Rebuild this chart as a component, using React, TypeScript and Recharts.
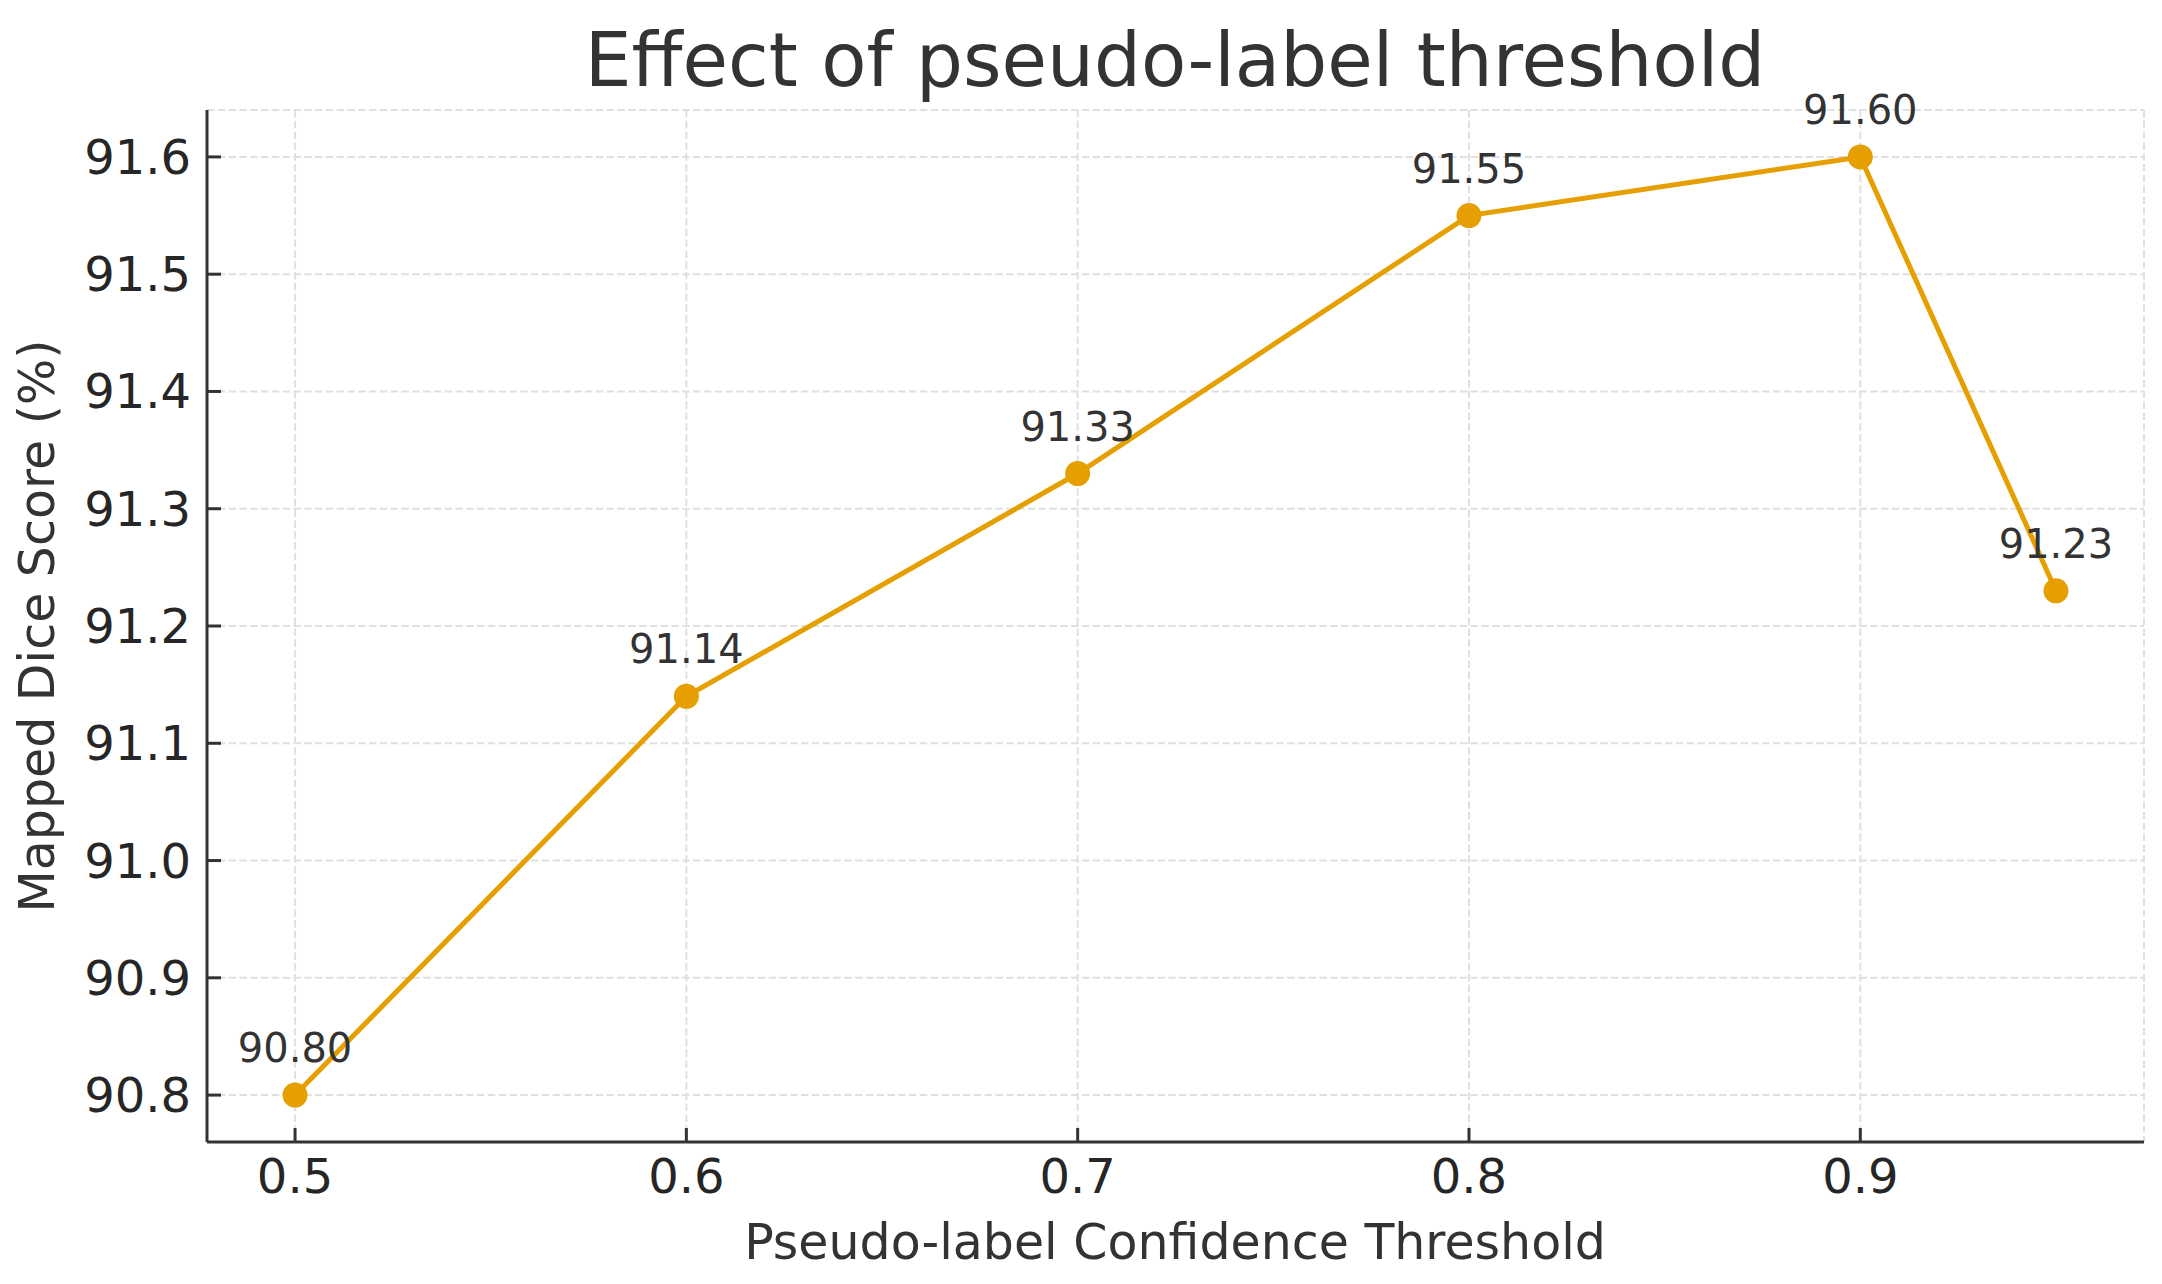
import React from "react";
import { LineChart, Line, XAxis, YAxis, CartesianGrid, LabelList } from "recharts";

const thresholds = [0.5, 0.6, 0.7, 0.8, 0.9, 0.95];
const scores = [90.8, 91.14, 91.33, 91.55, 91.6, 91.23];
const xTicks = [0.5, 0.6, 0.7, 0.8, 0.9];
const yTicks = [90.8, 90.9, 91.0, 91.1, 91.2, 91.3, 91.4, 91.5, 91.6];

const title = "Effect of pseudo-label threshold";
const xLabel = "Pseudo-label Confidence Threshold";
const yLabel = "Mapped Dice Score (%)";

const data = thresholds.map((t, i) => ({ t, score: scores[i] }));

const W = 2162;
const H = 1284;
const FONT = "'DejaVu Sans', sans-serif";
const LINE_COLOR = "#E69F00";

const XTick = (props: any) => {
  const { x, y, payload } = props;
  return (
    <g>
      <line x1={x} x2={x} y1={y} y2={y - 14} stroke="#333" strokeWidth={3} />
      <text x={x} y={y + 51} textAnchor="middle" fontSize={48} fill="#262626" fontFamily={FONT}>
        {Number(payload.value).toFixed(1)}
      </text>
    </g>
  );
};

const YTick = (props: any) => {
  const { x, y, payload } = props;
  return (
    <g>
      <line x1={x} x2={x + 14} y1={y} y2={y} stroke="#333" strokeWidth={3} />
      <text x={x - 16} y={y + 17} textAnchor="end" fontSize={48} fill="#262626" fontFamily={FONT}>
        {Number(payload.value).toFixed(1)}
      </text>
    </g>
  );
};

const ValueLabel = (props: any) => {
  const { x, y, value } = props;
  return (
    <text x={x} y={y - 33} textAnchor="middle" fontSize={40} fill="#333" fontFamily={FONT}>
      {Number(value).toFixed(2)}
    </text>
  );
};

export default function App() {
  return (
    <div style={{ position: "absolute", left: 0, top: 0, width: W, height: H, background: "#fff" }}>
      <LineChart
        width={W}
        height={H}
        data={data}
        margin={{ top: 110, right: 18, bottom: 0, left: 0 }}
      >
        <CartesianGrid stroke="#e0e0e0" strokeWidth={2} strokeDasharray="7.5 3.3" />
        <XAxis
          dataKey="t"
          type="number"
          domain={[0.4775, 0.9725]}
          allowDataOverflow
          ticks={xTicks}
          interval={0}
          height={142}
          tickSize={0}
          tickMargin={0}
          tickLine={false}
          axisLine={{ stroke: "#333", strokeWidth: 3 }}
          tick={<XTick />}
        />
        <YAxis
          type="number"
          domain={[90.76, 91.64]}
          allowDataOverflow
          ticks={yTicks}
          interval={0}
          width={207}
          tickSize={0}
          tickMargin={0}
          tickLine={false}
          axisLine={{ stroke: "#333", strokeWidth: 3 }}
          tick={<YTick />}
        />
        <Line
          type="linear"
          dataKey="score"
          stroke={LINE_COLOR}
          strokeWidth={5}
          dot={{ r: 12.5, fill: LINE_COLOR, stroke: "none" }}
          activeDot={false}
          isAnimationActive={false}
        >
          <LabelList dataKey="score" content={<ValueLabel />} />
        </Line>
      </LineChart>
      <svg
        width={W}
        height={H}
        style={{ position: "absolute", left: 0, top: 0, pointerEvents: "none" }}
      >
        <text x={1175} y={86} textAnchor="middle" fontSize={74} fill="#333" fontFamily={FONT}>
          {title}
        </text>
        <text x={1175} y={1259} textAnchor="middle" fontSize={49} fill="#333" fontFamily={FONT}>
          {xLabel}
        </text>
        <text
          x={54}
          y={626}
          textAnchor="middle"
          fontSize={49}
          fill="#333"
          fontFamily={FONT}
          transform="rotate(-90 54 626)"
        >
          {yLabel}
        </text>
      </svg>
    </div>
  );
}
